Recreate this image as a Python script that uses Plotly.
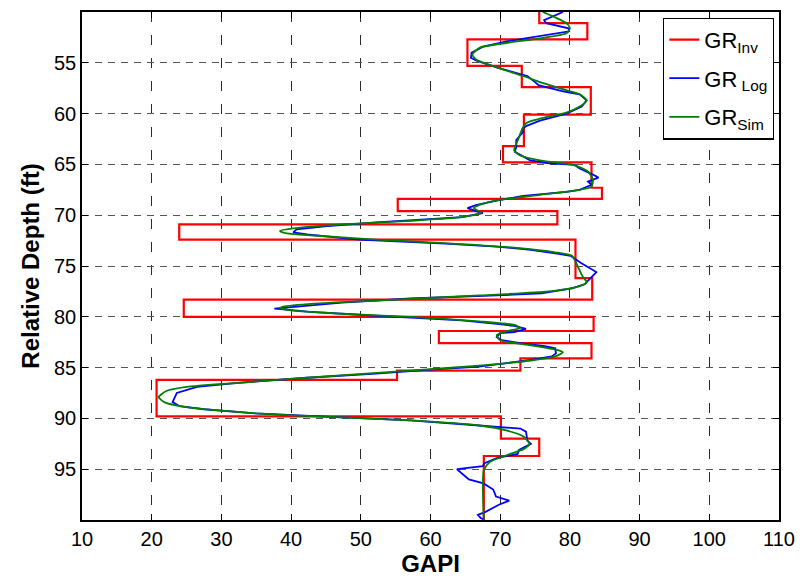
import plotly.graph_objects as go

# ---------------- data ----------------
# GR_Inv : blocky inverted layers (top/bottom boundaries in ft, GAPI value per layer)
inv_bounds = [50.0, 51.1, 52.7, 55.3, 57.4, 60.1, 63.2, 64.8, 67.3, 68.4, 69.6, 70.9,
              72.4, 76.2, 78.3, 80.0, 81.4, 82.6, 84.1, 85.3, 86.2, 89.8, 92.0, 93.7, 100.0]
inv_values = [75.6, 82.5, 65.3, 73.1, 83.0, 73.4, 70.4, 83.1, 84.6, 55.3, 78.2, 23.95,
              80.8, 83.2, 24.6, 83.4, 61.2, 83.1, 72.9, 55.2, 20.7, 70.1, 75.6, 67.65]

# GR_Log : measured log
log_depth = [50.0, 50.8, 51.1, 51.6, 51.9, 52.4, 52.9, 53.4, 54.0, 54.5, 54.8, 55.5, 56.1,
             56.3, 56.9, 57.2, 57.8, 58.1, 58.7, 59.3, 60.0, 60.7, 61.2, 61.5, 61.8, 62.6,
             63.3, 63.75, 64.6, 64.9, 65.05, 65.4, 66.0, 66.3, 66.7, 67.0, 67.5, 67.7, 68.1,
             68.5, 69.0, 69.3, 69.7, 69.8, 70.2, 70.4, 70.7, 71.1, 71.4, 71.7, 71.9, 72.4,
             72.6, 72.8, 73.1, 73.4, 73.8, 74.0, 74.7, 75.2, 75.6, 76.1, 76.8, 77.2, 77.7,
             77.9, 78.2, 78.6, 79.0, 79.2, 79.3, 79.5, 79.8, 80.1, 80.35, 80.7, 80.9, 81.2,
             81.5, 81.6, 82.0, 82.3, 82.6, 82.9, 83.1, 83.6, 83.9, 84.2, 84.55, 84.9, 85.2,
             85.6, 86.0, 86.5, 86.9, 87.5, 88.4, 88.8, 89.1, 89.5, 89.9, 90.2, 90.7, 90.9,
             91.0, 91.3, 92.2, 92.5, 93.1, 93.5, 93.9, 94.4, 94.7, 95.0, 95.4, 96.0, 96.4,
             97.0, 97.7, 98.1, 98.5, 99.2, 99.5, 99.8, 100.0]
log_values = [79.0, 76.3, 76.6, 79.8, 79.9, 75.7, 70.9, 67.6, 65.9, 65.8, 66.6, 69.7, 72.8,
              73.9, 75.0, 75.5, 79.0, 81.4, 82.4, 81.7, 79.5, 75.7, 73.8, 73.2, 73.3, 72.3,
              72.3, 72.1, 74.3, 77.1, 80.7, 81.4, 83.3, 84.1, 82.6, 83.1, 81.4, 79.5, 73.3,
              70.0, 66.5, 65.3, 67.0, 67.5, 64.5, 59.6, 52.2, 44.8, 40.8, 40.3, 42.3, 49.7,
              57.1, 62.1, 69.5, 74.4, 78.4, 80.1, 81.6, 82.8, 83.8, 83.1, 82.1, 80.3, 75.9,
              69.5, 57.1, 47.3, 40.3, 37.6, 39.4, 42.3, 49.7, 57.1, 64.5, 69.5, 72.0, 73.7,
              72.0, 70.0, 69.5, 70.2, 72.9, 76.4, 77.9, 78.0, 77.4, 74.9, 71.0, 67.0, 60.1,
              52.2, 42.3, 32.4, 26.5, 23.6, 23.0, 24.0, 27.5, 34.9, 47.3, 57.1, 67.0, 71.0,
              72.9, 73.7, 73.9, 74.4, 72.7, 72.5, 69.5, 67.75, 67.5, 63.8, 64.5, 65.5, 67.6,
              69.0, 69.4, 71.3, 69.8, 67.9, 66.8, 67.2, 67.8]

# GR_Sim : simulated log
sim_depth = [50.0, 50.5, 51.1, 51.6, 52.1, 52.6, 53.05, 53.5, 54.2, 54.7, 55.5, 56.3, 56.9,
             57.6, 58.1, 58.7, 59.3, 59.9, 60.5, 60.9, 61.6, 62.5, 63.6, 64.1, 64.6, 65.05,
             65.7, 66.5, 67.2, 67.5, 68.0, 68.4, 68.85, 69.3, 69.75, 70.2, 70.55, 70.9, 71.3,
             71.55, 71.8, 72.0, 72.4, 72.75, 73.2, 73.65, 74.0, 75.0, 76.0, 76.6, 77.0, 77.5,
             77.9, 78.4, 78.7, 79.0, 79.15, 79.4, 79.7, 80.0, 80.45, 80.8, 81.1, 81.4, 81.8,
             82.3, 82.8, 83.3, 83.5, 83.9, 84.3, 84.8, 85.3, 86.0, 86.5, 86.9, 87.3, 87.9,
             88.4, 88.9, 89.5, 89.9, 90.2, 90.7, 91.2, 91.8, 92.5, 93.0, 93.6, 94.3, 95.1,
             100.0]
sim_values = [76.1, 77.8, 79.5, 80.0, 79.5, 75.7, 70.9, 67.1, 66.0, 66.6, 69.7, 73.3, 75.7,
              79.0, 81.4, 82.4, 81.4, 79.5, 75.7, 73.8, 73.1, 72.6, 72.0, 72.8, 75.7, 80.5,
              82.6, 83.3, 83.1, 81.4, 75.7, 70.9, 67.6, 66.2, 67.3, 64.5, 57.1, 47.3, 40.3,
              38.4, 39.4, 43.3, 52.2, 62.1, 72.0, 77.9, 80.3, 81.1, 81.8, 82.4, 81.3, 76.9,
              67.0, 52.2, 43.3, 38.9, 38.4, 40.3, 47.3, 57.1, 67.0, 72.0, 72.9, 71.0, 69.5,
              70.0, 74.4, 78.4, 79.0, 77.9, 74.4, 67.0, 57.1, 42.3, 32.4, 25.0, 22.1, 21.0,
              21.8, 25.0, 34.9, 47.3, 57.1, 67.0, 71.0, 73.4, 74.2, 73.4, 71.0, 68.5, 67.65,
              67.65]

x_ticks = [10, 20, 30, 40, 50, 60, 70, 80, 90, 100, 110]
y_ticks = [55, 60, 65, 70, 75, 80, 85, 90, 95]

# ---------------- figure ----------------
FONT = "Liberation Sans, Arial, Helvetica, sans-serif"

fig = go.Figure()
fig.add_trace(go.Scatter(
    x=inv_values + [inv_values[-1]], y=inv_bounds, mode="lines",
    line=dict(color="#ff0000", width=2.2, shape="vh"),
    name="GR<sub>Inv</sub>", legendgroup="inv"))
fig.add_trace(go.Scatter(
    x=log_values, y=log_depth, mode="lines",
    line=dict(color="#0000ff", width=1.8),
    name="GR<sub> Log</sub>", legendgroup="log"))
fig.add_trace(go.Scatter(
    x=sim_values, y=sim_depth, mode="lines",
    line=dict(color="#007f00", width=1.8, shape="spline", smoothing=0.6),
    name="GR<sub>Sim</sub>", legendgroup="sim"))

axis_common = dict(
    showline=True, linecolor="black", linewidth=1.5, mirror="ticks",
    ticks="inside", ticklen=6, tickcolor="black", tickwidth=1,
    showgrid=True, gridwidth=1,
    zeroline=False,
    tickfont=dict(family=FONT, size=20, color="black"),
)

fig.update_xaxes(
    range=[10, 110], tickvals=x_ticks, ticktext=[str(v) for v in x_ticks],
    gridcolor="#2a2a2a", griddash="10px,13px",
    title=dict(text="<b>GAPI</b>", font=dict(family=FONT, size=24, color="black"),
               standoff=4),
    **axis_common)
fig.update_yaxes(
    range=[100, 50], tickvals=y_ticks, ticktext=[str(v) for v in y_ticks],
    gridcolor="#555555", griddash="7px,6px",
    title=dict(text="<b>Relative Depth (ft)</b>",
               font=dict(family=FONT, size=24, color="black"), standoff=8),
    **axis_common)

fig.update_layout(
    width=809, height=581,
    margin=dict(l=82, r=30, t=10, b=57),
    paper_bgcolor="white", plot_bgcolor="white",
    font=dict(family=FONT, color="black"),
    legend=dict(
        x=0.993, y=0.989, xanchor="right", yanchor="top",
        bgcolor="white", bordercolor="black", borderwidth=1.2,
        font=dict(family=FONT, size=22, color="black"),
        tracegroupgap=7,
    ),
    showlegend=True,
)

fig.write_html("out.html")
